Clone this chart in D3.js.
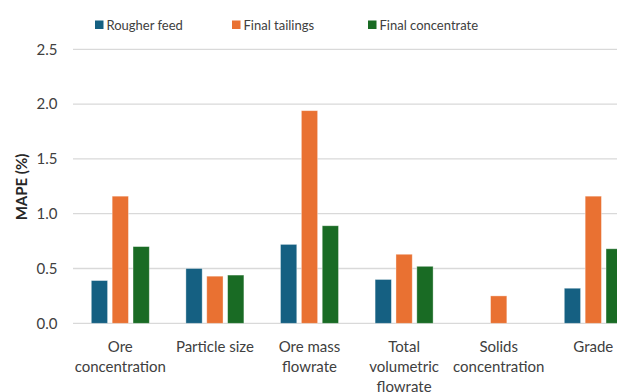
<!DOCTYPE html>
<html><head><meta charset="utf-8">
<script src="https://cdn.jsdelivr.net/npm/d3@7"></script>
<style>body{margin:0;background:#fff}svg{display:block}text{font-family:Lato,"Open Sans",sans-serif}</style>
</head><body><svg id="c" width="617" height="392"></svg>
<script>
const categories = [["Ore","concentration"],["Particle size"],["Ore mass","flowrate"],["Total","volumetric","flowrate"],["Solids","concentration"],["Grade"]];
const series = ["Rougher feed","Final tailings","Final concentrate"];
const roughFeed = [0.39, 0.50, 0.72, 0.40, null, 0.32];
const finalTailings = [1.16, 0.43, 1.94, 0.63, 0.25, 1.16];
const finalConcentrate = [0.70, 0.44, 0.89, 0.52, null, 0.68];
const yTicks = [0, 0.5, 1.0, 1.5, 2.0, 2.5];
const colors = ["#156082","#E97132","#196B24"];
const values = [roughFeed, finalTailings, finalConcentrate];

const svg = d3.select("#c");
const x = d3.scaleBand().domain(d3.range(categories.length)).range([73, 640.6]).paddingInner(0).paddingOuter(0);
const xs = d3.scaleBand().domain(d3.range(series.length)).range([18.3, x.bandwidth()-18.3]).paddingInner(0.22);
const y = d3.scaleLinear().domain([0, 2.5]).range([323.3, 49.3]);

// gridlines
svg.append("g").selectAll("line").data(yTicks).join("line")
  .attr("x1", 73).attr("x2", 617).attr("y1", d=>y(d)).attr("y2", d=>y(d))
  .attr("stroke", "#D9D9D9").attr("stroke-width", 1.3);

// y tick labels
const yAxis = d3.axisLeft(y).tickValues(yTicks).tickFormat(d3.format(".1f")).tickSize(0).tickPadding(0);
const ya = svg.append("g").attr("transform","translate(57.5,0)").call(yAxis);
ya.select(".domain").remove();
ya.selectAll("text").attr("font-size", 15).attr("fill", "#404040").style("font-family","Lato,sans-serif");

// bars
const g = svg.append("g");
series.forEach((s, si) => {
  g.append("g").selectAll("rect").data(values[si].map((v,i)=>({v,i}))).join("rect")
    .filter(d=>d.v!=null)
    .attr("x", d=>x(d.i)+xs(si)).attr("width", xs.bandwidth())
    .attr("y", d=>y(d.v)).attr("height", d=>y(0)-y(d.v))
    .attr("fill", colors[si]).attr("stroke", "rgba(255,255,255,0.45)").attr("stroke-width", 0.8);
});

// x labels
const xl = svg.append("g");
categories.forEach((lines, i) => {
  const t = xl.append("text").attr("x", x(i)+x.bandwidth()/2).attr("y", 351.5)
    .attr("text-anchor","middle").attr("font-size", 15).attr("fill","#404040");
  lines.forEach((ln, li) => t.append("tspan").attr("x", x(i)+x.bandwidth()/2).attr("dy", li===0?0:20).text(ln));
});

// y title
svg.append("text").attr("transform","translate(27,187) rotate(-90)").attr("text-anchor","middle")
  .attr("font-size", 15).attr("font-weight","bold").attr("fill","#262626").text("MAPE (%)");

// legend
const legX = [95, 232, 368];
const lg = svg.append("g");
series.forEach((s, si) => {
  lg.append("rect").attr("x", legX[si]).attr("y", 20.5).attr("width", 8.5).attr("height", 8.5).attr("fill", colors[si]);
  lg.append("text").attr("x", legX[si]+11.5).attr("y", 29.5).attr("font-size", 13).attr("fill","#404040").text(s);
});
</script></body></html>
